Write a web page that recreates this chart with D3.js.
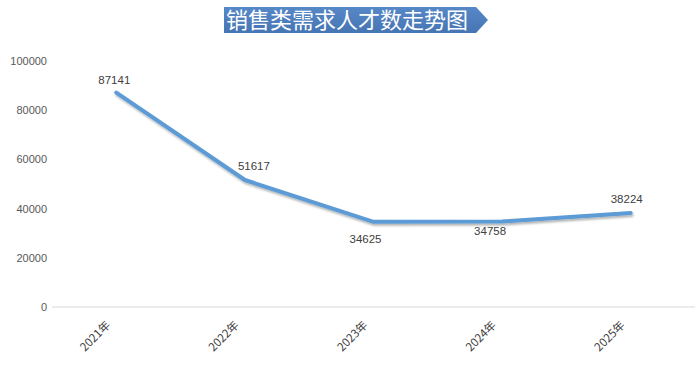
<!DOCTYPE html>
<html>
<head>
<meta charset="utf-8">
<script src="https://cdn.jsdelivr.net/npm/d3@7/dist/d3.min.js"></script>
<style>
  body { margin: 0; background: #fff; }
  svg text { font-family: "Noto Sans CJK SC", "DejaVu Sans", sans-serif; }
</style>
</head>
<body>
<div id="chart"></div>
<script>
var years = ['2021年', '2022年', '2023年', '2024年', '2025年'];
var values = [87141, 51617, 34625, 34758, 38224];
var yTicks = [0, 20000, 40000, 60000, 80000, 100000];
var title = '销售类需求人才数走势图';

// data label nudges (layout only)
var labelDx = [-2, 9, -8, -12, -4];
var labelDy = [-9, -10, 21, 14, -10];

var width = 700, height = 366;
var margin = { top: 61, right: 5, bottom: 59, left: 52 };

var svg = d3.select("#chart").append("svg")
    .attr("width", width)
    .attr("height", height);

var defs = svg.append("defs");
var shadow = defs.append("filter").attr("id", "shadow")
    .attr("x", "-10%").attr("y", "-10%").attr("width", "120%").attr("height", "130%");
shadow.append("feDropShadow").attr("dx", 1).attr("dy", 2).attr("stdDeviation", 1.2)
    .attr("flood-color", "#000").attr("flood-opacity", 0.3);

var grad = defs.append("linearGradient").attr("id", "titlegrad")
    .attr("x1", 0).attr("y1", 0).attr("x2", 0).attr("y2", 1);
grad.append("stop").attr("offset", "0%").attr("stop-color", "#5687c6");
grad.append("stop").attr("offset", "100%").attr("stop-color", "#4675b4");

// title banner
var bx = 224, by = 7, bw = 252, bh = 26, tip = 12;
svg.append("path")
    .attr("d", "M" + bx + "," + by + "H" + (bx + bw) + "L" + (bx + bw + tip) + "," + (by + bh / 2) +
        "L" + (bx + bw) + "," + (by + bh) + "H" + bx + "Z")
    .attr("fill", "url(#titlegrad)");
svg.append("text")
    .attr("x", bx + 2)
    .attr("y", by + bh / 2 + 8)
    .attr("fill", "#fff")
    .style("font-size", "22px")
    .text(title);

var g = svg.append("g");

var x = d3.scalePoint().domain(years)
    .range([margin.left, width - margin.right]).padding(0.5);
var y = d3.scaleLinear().domain([0, 100000])
    .range([height - margin.bottom, margin.top]);

// baseline
g.append("line")
    .attr("x1", margin.left).attr("x2", width - margin.right)
    .attr("y1", y(0)).attr("y2", y(0))
    .attr("stroke", "#d9d9d9").attr("stroke-width", 1);

// y axis labels
var yAxis = g.append("g")
    .attr("transform", "translate(" + (margin.left - 5) + ",0)")
    .call(d3.axisLeft(y).tickValues(yTicks).tickSize(0).tickPadding(0).tickFormat(d3.format("d")));
yAxis.select(".domain").remove();
yAxis.selectAll("text")
    .attr("fill", "#595959")
    .style("font-family", "'Liberation Sans', 'DejaVu Sans', sans-serif")
    .style("font-size", "11px");

// x axis labels
g.selectAll(".xlab")
    .data(years)
    .enter().append("text")
    .attr("class", "xlab")
    .attr("transform", function(d) { return "translate(" + (x(d) - 8) + "," + (y(0) + 16) + ") rotate(-45)"; })
    .attr("text-anchor", "end")
    .attr("dy", "0.35em")
    .attr("fill", "#404040")
    .style("font-size", "11.5px")
    .text(function(d) { return d; });

// line
var line = d3.line()
    .x(function(d, i) { return x(years[i]); })
    .y(function(d) { return y(d); });

g.append("path")
    .datum(values)
    .attr("d", line)
    .attr("fill", "none")
    .attr("stroke", "#5b9bd5")
    .attr("stroke-width", 4)
    .attr("stroke-linecap", "round")
    .attr("stroke-linejoin", "round")
    .attr("filter", "url(#shadow)");

// data labels
g.selectAll(".vlab")
    .data(values)
    .enter().append("text")
    .attr("class", "vlab")
    .attr("x", function(d, i) { return x(years[i]) + labelDx[i]; })
    .attr("y", function(d, i) { return y(d) + labelDy[i]; })
    .attr("text-anchor", "middle")
    .attr("fill", "#404040")
    .style("font-family", "'Liberation Sans', 'DejaVu Sans', sans-serif")
    .style("font-size", "11.5px")
    .text(function(d) { return d; });
</script>
</body>
</html>
